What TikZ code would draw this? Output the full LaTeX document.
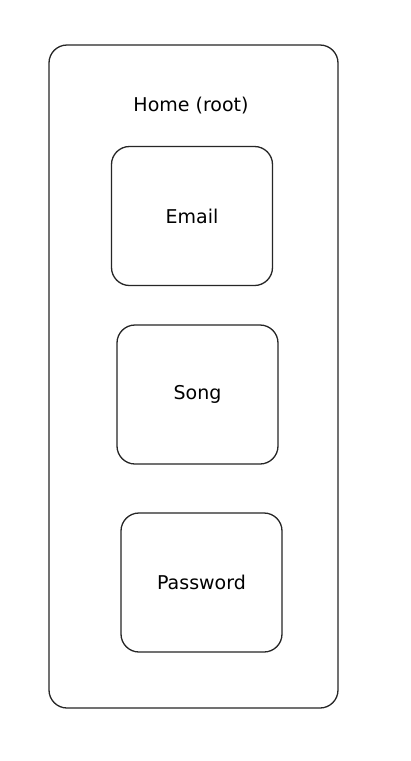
\documentclass[tikz,border=0pt]{standalone}
\usepackage{fontspec}
\setmainfont{DejaVu Sans}
\begin{document}
\begin{tikzpicture}[x=1pt,y=-1pt,
  frame/.style={draw=black!85, line width=1.3pt, rounded corners=18pt},
  inner/.style={draw=black!85, line width=1.3pt, rounded corners=18pt, minimum width=161pt, minimum height=139pt, font=\fontsize{19}{22}\selectfont, inner sep=0pt},
  lbl/.style={font=\fontsize{19}{22}\selectfont, inner sep=0pt}]
\useasboundingbox[fill=white] (0,0) rectangle (410,761);
\node[frame, minimum width=289pt, minimum height=663pt, inner sep=0pt] (root) at (193.5,376.5) {};
\node[lbl] (title) at (191,106) {Home (root)};
\node[inner] (email) at (192,216) {Email};
\node[inner] (song) at (197.5,394.5) {Song};
\node[inner] (pass) at (201.5,582.5) {Password};
\end{tikzpicture}
\end{document}
